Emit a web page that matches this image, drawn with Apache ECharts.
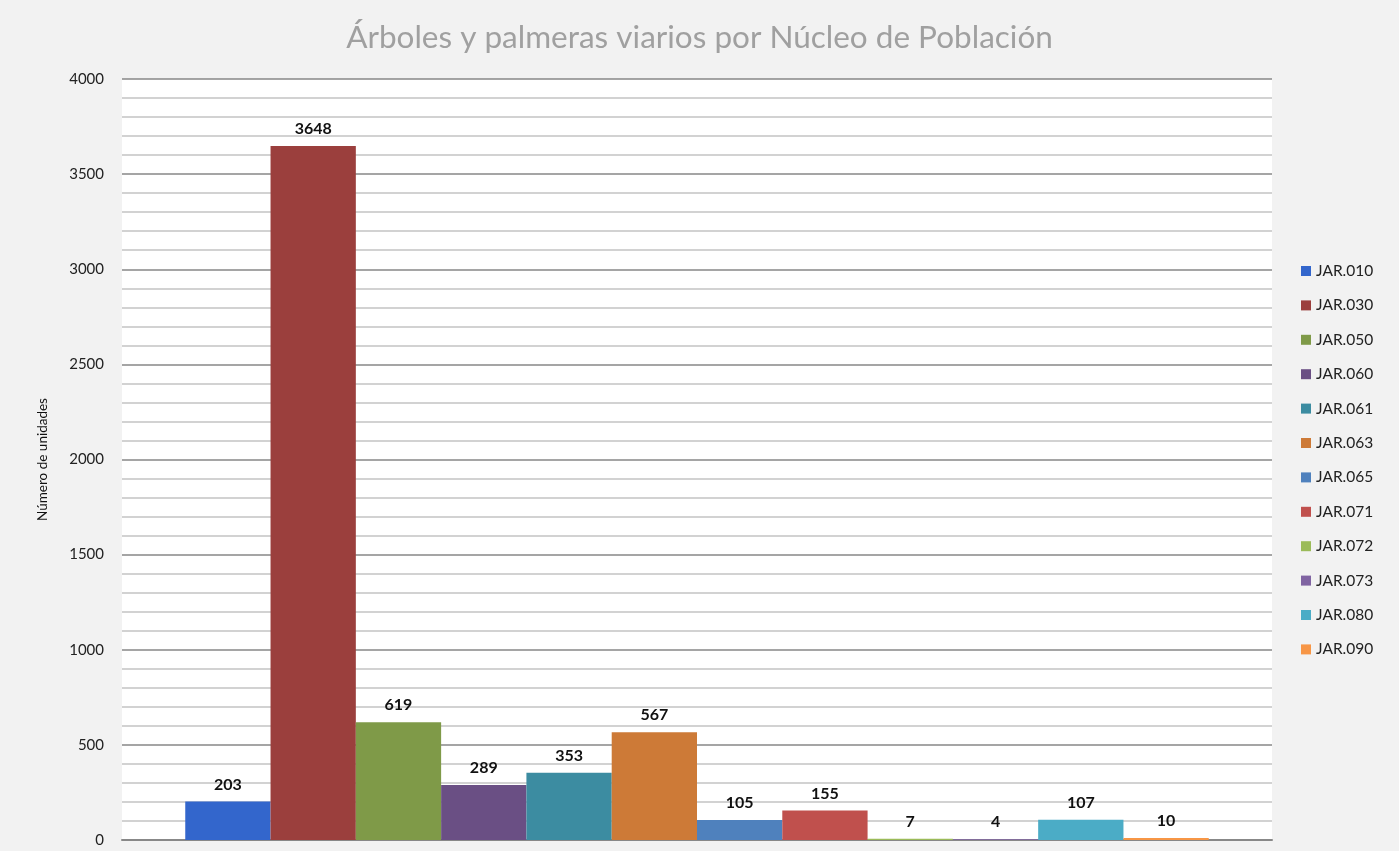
<!DOCTYPE html>
<html>
<head>
<meta charset="utf-8">
<script src="https://cdn.jsdelivr.net/npm/echarts@6/dist/echarts.min.js"></script>
<style>
  html, body { margin: 0; padding: 0; background: #f2f2f2; }
  #chart { width: 1399px; height: 851px; }
</style>
</head>
<body>
<div id="chart"></div>
<script>
// Datos del gráfico
const nucleos = ['JAR.010', 'JAR.030', 'JAR.050', 'JAR.060', 'JAR.061', 'JAR.063',
  'JAR.065', 'JAR.071', 'JAR.072', 'JAR.073', 'JAR.080', 'JAR.090'];
const unidades = [203, 3648, 619, 289, 353, 567, 105, 155, 7, 4, 107, 10];
const colores = ['#3366cc', '#9b3f3d', '#7f9a48', '#6a4f84', '#3c8ca1', '#cd7a37',
  '#4f81bd', '#c0504d', '#9bbb59', '#8064a2', '#4bacc6', '#f79646'];

const chart = echarts.init(document.getElementById('chart'));

const series = nucleos.map((name, i) => ({
  name,
  type: 'bar',
  data: [unidades[i]],
  barGap: '0%',
  barCategoryGap: '11%',
  itemStyle: { color: colores[i] },
  label: {
    show: true,
    position: 'top',
    distance: 9,
    color: '#111',
    fontWeight: 'bold',
    fontSize: 16,
    fontFamily: 'Lato',
  },
}));

chart.setOption({
  backgroundColor: '#f2f2f2',
  textStyle: { fontFamily: 'Lato' },
  title: {
    text: 'Árboles y palmeras viarios por Núcleo de Población',
    left: 'center',
    top: 17,
    textStyle: { color: '#a0a0a0', fontSize: 31.5, fontWeight: 'normal', fontFamily: 'Lato' },
  },
  legend: {
    orient: 'vertical',
    left: 1296,
    top: 258,
    itemWidth: 10,
    itemHeight: 10,
    itemGap: 18.4,
    icon: 'rect',
    textStyle: { color: '#222', fontSize: 15.5, fontFamily: 'Lato' },
  },
  grid: {
    left: 122,
    right: 127,
    top: 79,
    bottom: 11,
    show: true,
    backgroundColor: '#ffffff',
    borderWidth: 0,
  },
  xAxis: {
    type: 'category',
    data: [''],
    axisTick: { show: false },
    axisLabel: { show: false },
    axisLine: { lineStyle: { color: '#888', width: 2 } },
  },
  yAxis: {
    type: 'value',
    min: 0,
    max: 4000,
    interval: 500,
    name: 'Número de unidades',
    nameLocation: 'middle',
    nameGap: 72,
    nameTextStyle: { color: '#111', fontSize: 13.5, fontFamily: 'Lato' },
    axisLabel: { color: '#222', fontSize: 15, margin: 18, formatter: (v) => String(v) },
    axisLine: { show: false },
    axisTick: { show: false },
    splitLine: { lineStyle: { color: '#878787', width: 1.5 } },
    minorTick: { show: false, splitNumber: 5 },
    minorSplitLine: { show: true, lineStyle: { color: '#c4c4c4', width: 1.5 } },
  },
  series,
});
</script>
</body>
</html>
